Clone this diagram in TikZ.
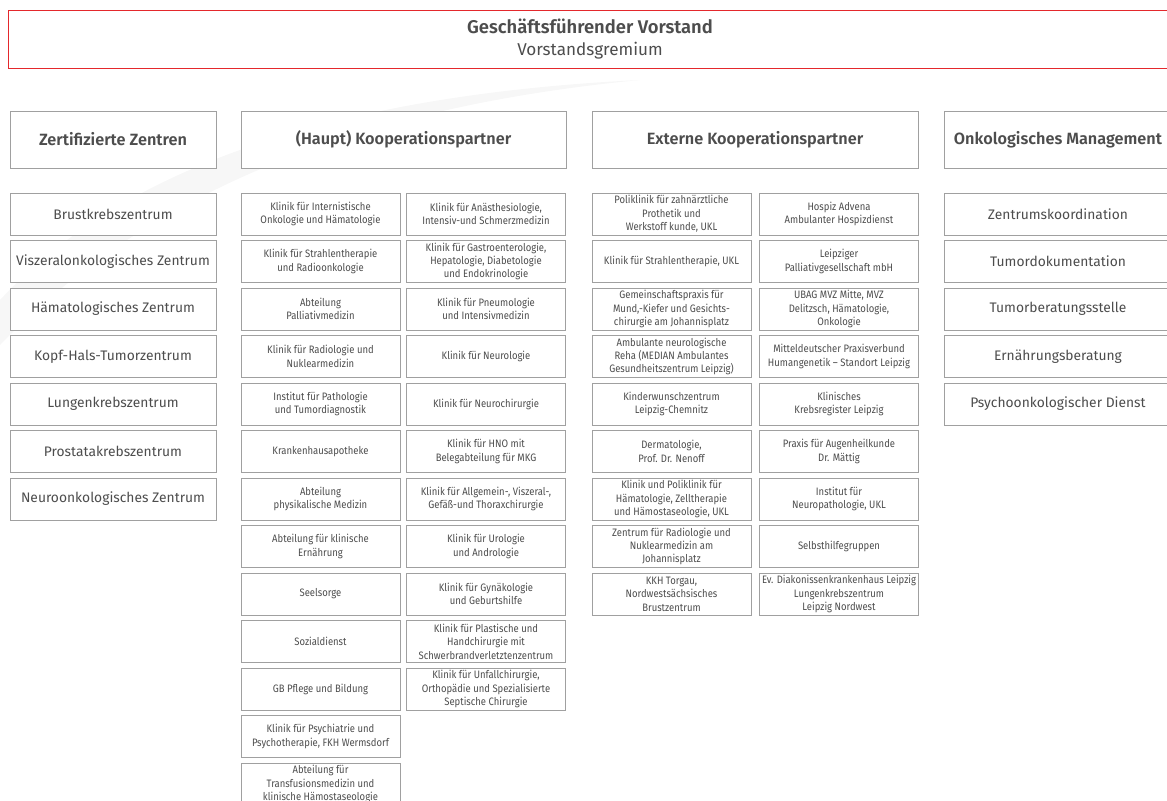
\documentclass[tikz,border=0pt]{standalone}
\usepackage{fontspec}
\setmainfont{Fira Sans}[BoldFont={Fira Sans SemiBold}]
\newfontfamily\narrowfont{Fira Sans}[FakeStretch=0.88]
\usetikzlibrary{shadows}
\definecolor{textgray}{RGB}{77,77,77}
\definecolor{boxgray}{RGB}{160,160,160}
\definecolor{boardred}{RGB}{228,40,44}
\definecolor{swoosh}{RGB}{247,247,247}

\begin{document}
\begin{tikzpicture}[x=0.03cm, y=-0.03cm,
    unit/.style={rectangle, draw=boxgray, line width=0.7pt, fill=white, text=textgray,
                 align=center, inner sep=1pt, minimum height=1.26cm,
                 drop shadow={opacity=0.25, shadow xshift=0.4pt, shadow yshift=-0.7pt}},
    centre/.style={unit, minimum width=6.18cm, font=\fontsize{11.8}{14}\selectfont},
    partner/.style={unit, minimum width=4.77cm, font=\narrowfont\fontsize{9.2}{11.4}\selectfont},
    column/.style={unit, minimum height=1.71cm, font=\fontsize{13.9}{16}\selectfont\bfseries},
    board/.style={rectangle, draw=boardred, line width=0.8pt, fill=white, text=textgray,
                  align=center, minimum width=34.92cm, minimum height=1.74cm,
                  font=\fontsize{14.6}{18}\selectfont},
]
\useasboundingbox (0,0) rectangle (1167,800);
\clip (0,0) rectangle (1167,800);

% background swoosh
\fill[swoosh] (0,300) .. controls (120,170) and (330,95) .. (640,80)
    .. controls (380,105) and (160,180) .. (0,345) -- cycle;

% Board
\node[board] (vorstand) at (590,39)
    {{\fontsize{15.7}{18}\selectfont\bfseries Geschäftsführender Vorstand}\\Vorstandsgremium};

% Column heads
\node[column, minimum width=6.18cm] (zentren) at (113,139.5) {Zertifizierte Zentren};
\node[column, minimum width=9.75cm] (haupt) at (403.5,139.5) {(Haupt) Kooperationspartner};
\node[column, minimum width=9.78cm] (extern) at (755,139.5) {Externe Kooperationspartner};
\node[column, minimum width=6.84cm] (management) at (1058,139.5) {Onkologisches Management};

% Certified centres
\foreach \txt [count=\i from 0] in {Brustkrebszentrum, Viszeralonkologisches Zentrum,
    Hämatologisches Zentrum, Kopf-Hals-Tumorzentrum, Lungenkrebszentrum,
    Prostatakrebszentrum, Neuroonkologisches Zentrum} {
    \node[centre] (zentrum-\i) at (113,214+47.5*\i) {\txt};
}

% Main partners, left
\foreach \txt [count=\i from 0] in {
    {Klinik für Internistische\\Onkologie und Hämatologie},
    {Klinik für Strahlentherapie\\und Radioonkologie},
    {Abteilung\\Palliativmedizin},
    {Klinik für Radiologie und\\Nuklearmedizin},
    {Institut für Pathologie\\und Tumordiagnostik},
    {Krankenhausapotheke},
    {Abteilung\\physikalische Medizin},
    {Abteilung für klinische\\Ernährung},
    {Seelsorge},
    {Sozialdienst},
    {GB Pflege und Bildung},
    {Klinik für Psychiatrie und\\Psychotherapie, FKH Wermsdorf},
    {Abteilung für\\Transfusionsmedizin und\\klinische Hämostaseologie}} {
    \node[partner] (haupta-\i) at (320.5,214+47.5*\i) {\txt};
}

% Main partners, right
\foreach \txt [count=\i from 0] in {
    {Klinik für Anästhesiologie,\\Intensiv-und Schmerzmedizin},
    {Klinik für Gastroenterologie,\\Hepatologie, Diabetologie\\und Endokrinologie},
    {Klinik für Pneumologie\\und Intensivmedizin},
    {Klinik für Neurologie},
    {Klinik für Neurochirurgie},
    {Klinik für HNO mit\\Belegabteilung für MKG},
    {Klinik für Allgemein-, Viszeral-,\\Gefäß-und Thoraxchirurgie},
    {Klinik für Urologie\\und Andrologie},
    {Klinik für Gynäkologie\\und Geburtshilfe},
    {Klinik für Plastische und\\Handchirurgie mit\\Schwerbrandverletztenzentrum},
    {Klinik für Unfallchirurgie,\\Orthopädie und Spezialisierte\\Septische Chirurgie}} {
    \node[partner] (hauptb-\i) at (486,214+47.5*\i) {\txt};
}

% External partners, left
\foreach \txt [count=\i from 0] in {
    {Poliklinik für zahnärztliche\\Prothetik und\\Werkstoff kunde, UKL},
    {Klinik für Strahlentherapie, UKL},
    {Gemeinschaftspraxis für\\Mund,-Kiefer und Gesichts-\\chirurgie am Johannisplatz},
    {Ambulante neurologische\\Reha (MEDIAN Ambulantes\\Gesundheitszentrum Leipzig)},
    {Kinderwunschzentrum\\Leipzig-Chemnitz},
    {Dermatologie,\\Prof. Dr. Nenoff},
    {Klinik und Poliklinik für\\Hämatologie, Zelltherapie\\und Hämostaseologie, UKL},
    {Zentrum für Radiologie und\\Nuklearmedizin am\\Johannisplatz},
    {KKH Torgau,\\Nordwestsächsisches\\Brustzentrum}} {
    \node[partner] (externa-\i) at (671.5,214+47.5*\i) {\txt};
}

% External partners, right
\foreach \txt [count=\i from 0] in {
    {Hospiz Advena\\Ambulanter Hospizdienst},
    {Leipziger\\Palliativgesellschaft mbH},
    {UBAG MVZ Mitte, MVZ\\Delitzsch, Hämatologie,\\Onkologie},
    {Mitteldeutscher Praxisverbund\\Humangenetik – Standort Leipzig},
    {Klinisches\\Krebsregister Leipzig},
    {Praxis für Augenheilkunde\\Dr. Mättig},
    {Institut für\\Neuropathologie, UKL},
    {Selbsthilfegruppen},
    {Ev. Diakonissenkrankenhaus Leipzig\\Lungenkrebszentrum\\Leipzig Nordwest}} {
    \node[partner] (externb-\i) at (839,214+47.5*\i) {\txt};
}

% Oncological management
\foreach \txt [count=\i from 0] in {Zentrumskoordination, Tumordokumentation,
    Tumorberatungsstelle, Ernährungsberatung, Psychoonkologischer Dienst} {
    \node[centre, minimum width=6.84cm] (dienst-\i) at (1058,214+47.5*\i) {\txt};
}

\end{tikzpicture}
\end{document}
